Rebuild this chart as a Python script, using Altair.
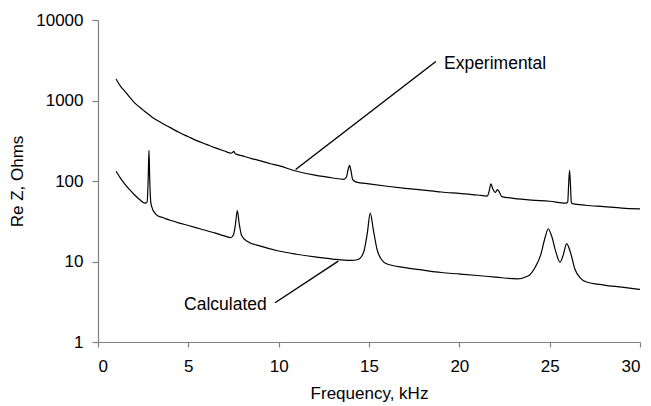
import altair as alt
import pandas as pd

# ---- data ----
exp_freq = [1.0, 1.25, 1.5, 1.75, 2.0, 2.5, 3.0, 3.5, 4.0, 4.5, 5.0, 5.5, 6.0, 6.5, 7.0,
            7.35, 7.45, 7.52, 7.6, 8.0, 8.5, 9.0, 9.5, 10.0, 11.0, 12.0, 13.0, 13.6, 13.75,
            13.85, 13.92, 14.0, 14.1, 14.3, 15.0, 16.0, 17.0, 18.0, 19.0, 20.0, 21.0, 21.55,
            21.65, 21.75, 21.85, 22.0, 22.1, 22.2, 22.35, 23.0, 24.0, 25.0, 25.9, 26.0, 26.05,
            26.1, 26.15, 26.2, 26.3, 27.0, 28.0, 29.0, 30.0]
exp_ohms = [1850, 1500, 1290, 1100, 950, 760, 620, 530, 460, 400, 355, 315, 285, 258, 236,
            222, 226, 234, 218, 205, 190, 178, 165, 155, 132, 118, 109, 105, 112,
            140, 156, 135, 104, 97, 92, 86, 81, 77, 73, 70, 67, 65,
            75, 92, 80, 72, 78, 74, 64, 61, 58, 56, 53, 55, 90,
            136, 90, 54, 52, 50, 48, 46, 45]

calc_freq = [1.0, 1.25, 1.5, 1.75, 2.0, 2.3, 2.6, 2.72, 2.78, 2.82, 2.86, 2.92, 3.0, 3.15,
             3.3, 3.6, 4.0, 4.5, 5.0, 5.64, 6.5, 7.0, 7.35, 7.5, 7.6, 7.71, 7.82, 7.95, 8.23,
             9.0, 10.0, 11.0, 12.0, 13.0, 14.0, 14.4, 14.7, 14.9, 15.07, 15.25, 15.45, 15.7,
             16.0, 17.0, 18.0, 19.0, 20.0, 21.0, 22.0, 23.2, 23.8, 24.2, 24.5, 24.75, 24.92,
             25.1, 25.35, 25.57, 25.75, 25.94, 26.15, 26.4, 26.7, 27.0, 28.0, 29.0, 30.0]
calc_ohms = [132, 108, 91, 78, 68, 59, 53, 55, 110, 240, 110, 55, 46, 40,
             37, 35, 32.5, 30, 28, 25.5, 22.5, 20.8, 19.8, 21.5, 28, 43, 29, 21, 18,
             15.5, 13.5, 12.3, 11.4, 10.7, 10.3, 10.6, 13, 22, 40, 24, 14, 10.5,
             9.3, 8.4, 7.8, 7.3, 7.0, 6.7, 6.4, 6.1, 6.6, 8.5, 12, 20, 25.5,
             21, 13, 9.8, 12, 16.7, 13, 8, 6.2, 5.6, 5.1, 4.8, 4.5]

x_ticks = [0, 5, 10, 15, 20, 25, 30]
y_ticks = [1, 10, 100, 1000, 10000]

label_text = ["Experimental", "Calculated"]
label_freq = [19.15, 9.34]
label_ohms = [2880, 2.92]
label_align = ["left", "right"]

pointer_freq = [10.94, 9.8]
pointer_ohms = [139, 3.07]
pointer_freq2 = [18.7, 13.3]
pointer_ohms2 = [3050, 10.1]

# ---- tables ----
curves = pd.concat([
    pd.DataFrame({"freq": exp_freq, "ohms": exp_ohms, "series": "Experimental"}),
    pd.DataFrame({"freq": calc_freq, "ohms": calc_ohms, "series": "Calculated"}),
])
labels = pd.DataFrame({"text": label_text, "freq": label_freq, "ohms": label_ohms,
                       "align": label_align})
pointers = pd.DataFrame({"freq": pointer_freq, "ohms": pointer_ohms,
                         "freq2": pointer_freq2, "ohms2": pointer_ohms2})

FONT = "Liberation Sans"

xscale = alt.Scale(domain=[0, 30], nice=False, zero=False)
yscale = alt.Scale(type="log", domain=[1, 10000], nice=False)

x_enc = alt.X("freq:Q", scale=xscale, title="Frequency, kHz",
              axis=alt.Axis(values=x_ticks, format="d", grid=False, tickSize=5,
                            labelPadding=11, titlePadding=11))
y_enc = alt.Y("ohms:Q", scale=yscale, title="Re Z, Ohms",
              axis=alt.Axis(values=y_ticks, format="d", grid=False, tickSize=6,
                            labelPadding=9, titlePadding=9))

lines = alt.Chart(curves).mark_line(color="black", strokeWidth=1.2,
                                    interpolate="monotone").encode(
    x=x_enc, y=y_enc, detail="series:N", order="freq:Q")

rules = alt.Chart(pointers).mark_rule(color="black", strokeWidth=1.4).encode(
    x="freq:Q", y="ohms:Q", x2="freq2:Q", y2="ohms2:Q")

text_left = alt.Chart(labels[labels["align"] == "left"]).mark_text(
    align="left", baseline="middle", font=FONT, fontSize=17.5, color="black").encode(
    x="freq:Q", y="ohms:Q", text="text:N")
text_right = alt.Chart(labels[labels["align"] == "right"]).mark_text(
    align="right", baseline="middle", font=FONT, fontSize=17.5, color="black").encode(
    x="freq:Q", y="ohms:Q", text="text:N")

chart = alt.layer(lines, rules, text_left, text_right).properties(
    width=542, height=322,
    autosize=alt.AutoSizeParams(type="none"),
    padding={"left": 98, "top": 20, "right": 11, "bottom": 64},
    background="white",
).configure_view(stroke=None).configure_axis(
    labelFont=FONT, titleFont=FONT, labelFontSize=17, titleFontSize=17,
    labelColor="black", titleColor="black", titleFontWeight="normal",
    domainColor="#808080", tickColor="#808080", domainWidth=1.2, tickWidth=1.2,
)

chart.save("out.html", embed_options={"renderer": "svg", "actions": False})
